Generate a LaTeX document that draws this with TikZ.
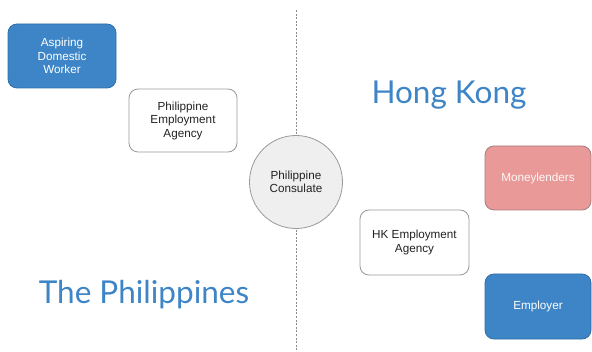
\documentclass[tikz,border=0pt]{standalone}
\usepackage{fontspec}
\setmainfont{Liberation Sans}
\newfontfamily\bigfont{Lato}
\definecolor{cblue}{HTML}{3D85C6}
\definecolor{cblueb}{HTML}{2F6EA8}
\definecolor{cpink}{HTML}{EA9999}
\definecolor{cpinkb}{HTML}{A87C7C}
\definecolor{cgrayb}{HTML}{999999}
\definecolor{ccirc}{HTML}{EFEFEF}
\definecolor{ctext}{HTML}{222222}
\begin{document}
\begin{tikzpicture}[x=1pt,y=1pt,
  box/.style={rectangle, rounded corners=9pt, draw=cgrayb, line width=0.8pt, fill=white,
    inner sep=0pt, align=center, font=\fontsize{11.7}{13.5}\selectfont, text=ctext},
  bluebox/.style={box, draw=cblueb, fill=cblue, text=white},
  pinkbox/.style={box, draw=cpinkb, fill=cpink, text=white!92!cpink},
  region/.style={font=\bigfont\fontsize{31.5}{33}\selectfont, text=cblue, inner sep=0pt, anchor=base},
  divider/.style={draw=gray!90, dash pattern=on 2pt off 1.6pt, line width=0.6pt}
]
\path[use as bounding box] (0,0) rectangle (592,351);
\coordinate (dtop) at (296,341);
\coordinate (dbot) at (296,0);
\draw[divider] (dtop) -- (dbot);

\node[bluebox, minimum width=108pt, minimum height=64pt] (adw) at (62,295) {Aspiring\\Domestic\\Worker};
\node[box, minimum width=108pt, minimum height=63pt] (pea) at (183,230.5) {Philippine\\Employment\\Agency};
\node[circle, draw=cgrayb, line width=0.8pt, fill=ccirc, minimum size=93pt, inner sep=0pt,
  align=center, font=\fontsize{11.7}{13.5}\selectfont, text=ctext] (pc) at (296,169) {Philippine\\Consulate};
\node[box, minimum width=109pt, minimum height=65pt] (hka) at (414.5,108.5) {HK Employment\\Agency};
\node[pinkbox, minimum width=106pt, minimum height=64pt] (ml) at (538,173) {Moneylenders};
\node[bluebox, minimum width=106pt, minimum height=65pt] (emp) at (538,44.5) {Employer};

\node[region] (hk) at (449,247) {Hong Kong};
\node[region] (ph) at (144,48) {The Philippines};
\end{tikzpicture}
\end{document}
